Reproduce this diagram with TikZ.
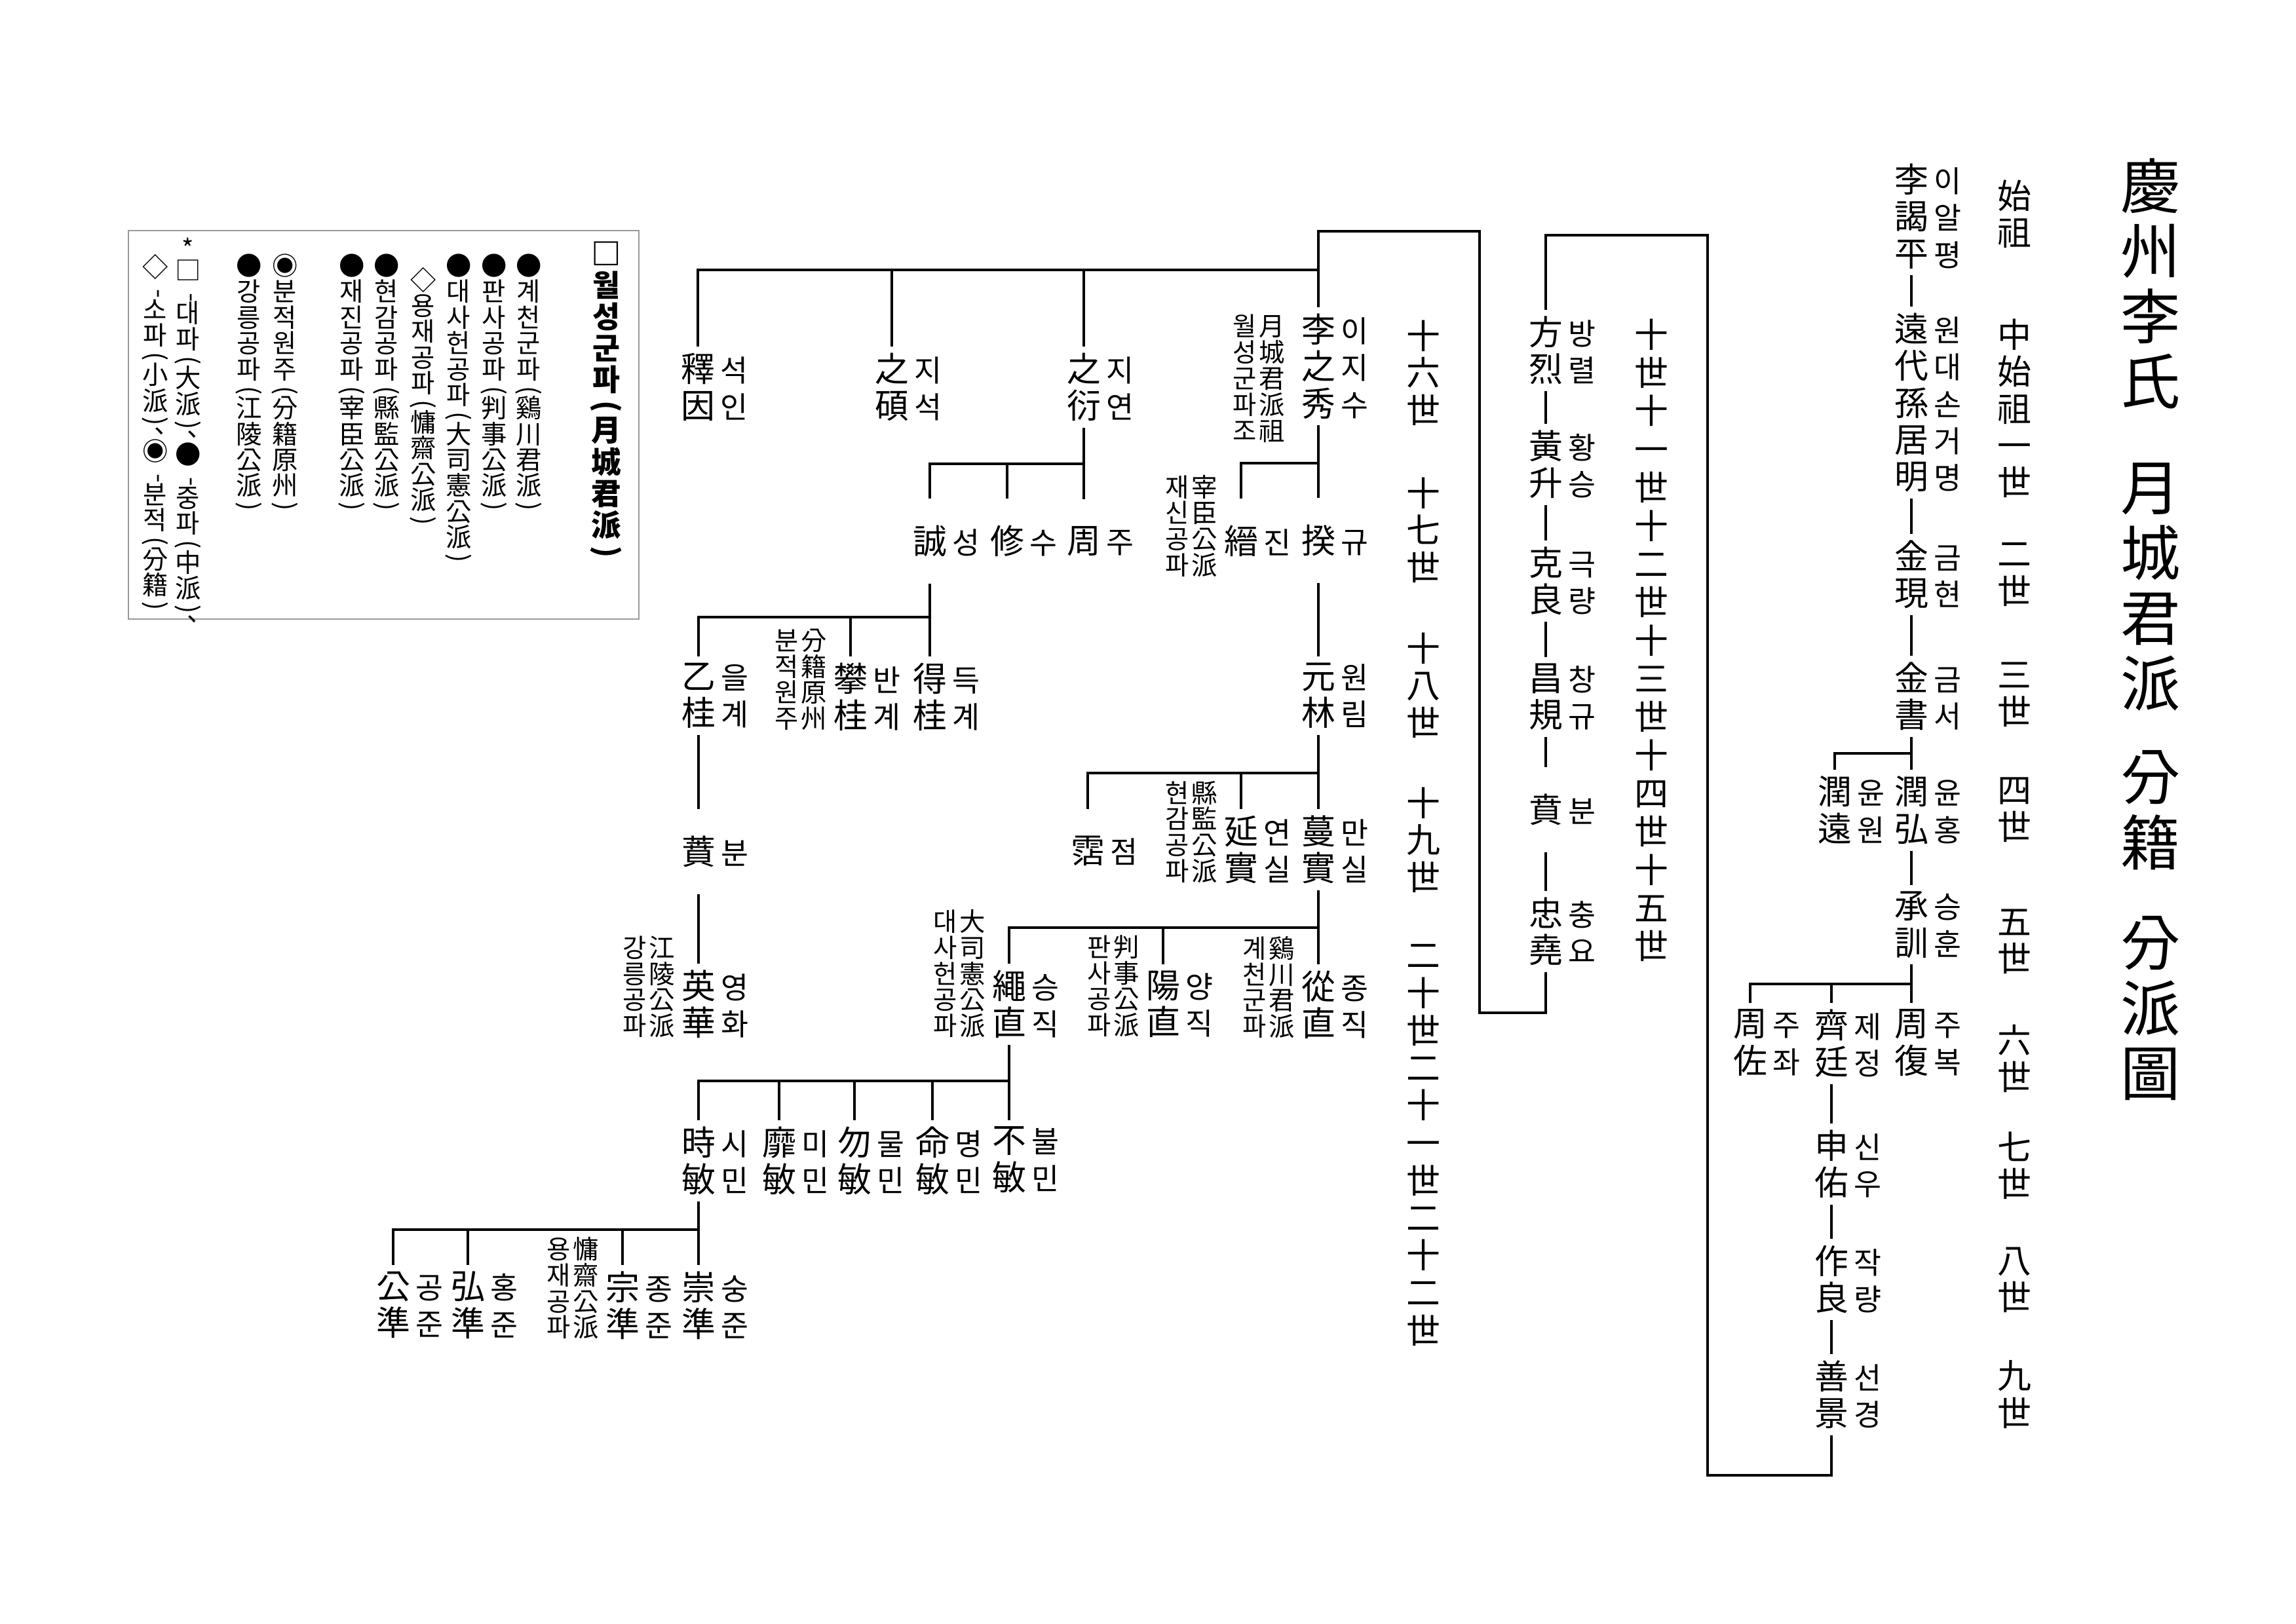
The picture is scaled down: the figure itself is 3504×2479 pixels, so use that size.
\documentclass[tikz,border=0pt]{standalone}
\usepackage{fontspec}
\setmainfont{Noto Sans CJK KR}
\usetikzlibrary{positioning}

% vertical text: one character per line
\makeatletter
\newcommand\vtxt[1]{\vbox{\lineskiplimit=-\maxdimen\vt@loop#1\@nil}}
\def\vt@loop#1{\ifx\@nil#1\else\vt@item{#1}\expandafter\vt@loop\fi}
\def\vt@item#1{%
  \ifx\vlp#1#1\else
  \ifx\vrp#1#1\else
  \ifx\vdsh#1#1\else
  \ifx\vcm#1#1\else
  \ifx\vstr#1#1\else
  \hbox to1em{\hss#1\hss}%
  \fi\fi\fi\fi\fi}
\makeatother
\newcommand\vlp{\vskip-2.3pt\hbox to1em{\hss\rotatebox[origin=c]{-90}{(}\hss}\vskip-2.3pt\relax}
\newcommand\vrp{\vskip-2.3pt\hbox to1em{\hss\rotatebox[origin=c]{-90}{)}\hss}\vskip-2.3pt\relax}
\newcommand\vdsh{\vskip-1.6pt\hbox to1em{\hss\rotatebox[origin=c]{-90}{-}\hss}\vskip-1.6pt\relax}
\newcommand\vcm{\vskip-3pt\hbox to1em{\hskip.45em\raisebox{.3em}{、}\hss}\vskip-2.2pt\relax}
\newcommand\vstr{\hbox to1em{\hss*\hss}\vskip-1.5pt\relax}

\newcommand\namefont{\fontsize{12.5}{13.6}\selectfont}
\newcommand\readfont{\fontsize{11}{13.6}\selectfont}
\newcommand\notefont{\fontsize{9.5}{9.6}\selectfont}
\newcommand\legfont{\fontsize{9.5}{9.5}\selectfont}
\newcommand\titlefont{\fontsize{22}{24}\selectfont}

\begin{document}
\begin{tikzpicture}[x=0.08476mm, y=-0.08476mm,
    han/.style={inner sep=0pt, font=\namefont, anchor=north},
    one/.style={inner xsep=0pt, inner ysep=7.5pt, font=\namefont},
    rd/.style={inner sep=0pt, font=\readfont, anchor=base west, xshift=1.25pt},
    note/.style={inner sep=0pt, font=\notefont, anchor=base east, xshift=-2pt},
    gen/.style={inner sep=0pt, font=\namefont, anchor=north},
    ttl/.style={inner sep=0pt, font=\titlefont, anchor=north},
    leg/.style={inner sep=0pt, font=\legfont, anchor=north},
    legt/.style={inner sep=0pt, font=\fontsize{11}{11.6}\bfseries, anchor=north},
    legbox/.style={draw=gray!80, line width=0.6pt},
    link/.style={line width=0.85pt, shorten <=2.2pt, shorten >=2.2pt},
    tick/.style={line width=0.85pt, shorten <=2.2pt}]
    \path[use as bounding box] (0,0) rectangle (3504,2479);

    % title
    \node[ttl] (ttl1) at (3282,241) {\vtxt{慶州李氏}};
    \node[ttl] (ttl2) at (3282,706) {\vtxt{月城君派}};
    \node[ttl] (ttl3) at (3282,1145) {\vtxt{分籍}};
    \node[ttl] (ttl4) at (3282,1398) {\vtxt{分派圖}};

    % generations
    \node[gen] (g0) at (3074,274) {\vtxt{始祖}};
    \node[gen] (g1) at (3074,486) {\vtxt{中始祖一世}};
    \node[gen] (g2) at (3074,828) {\vtxt{二世}};
    \node[gen] (g3) at (3074,1010) {\vtxt{三世}};
    \node[gen] (g4) at (3074,1186) {\vtxt{四世}};
    \node[gen] (g5) at (3074,1387) {\vtxt{五世}};
    \node[gen] (g6) at (3074,1563) {\vtxt{六世}};
    \node[gen] (g7) at (3074,1727) {\vtxt{七世}};
    \node[gen] (g8) at (3074,1903) {\vtxt{八世}};
    \node[gen] (g9) at (3074,2076) {\vtxt{九世}};
    \node[gen, font=\fontsize{12.5}{14.07}\selectfont] (g10) at (2520,486) {\vtxt{十世十一世十二世十三世十四世十五世}};
    \node[gen] (g16) at (2172,488) {\vtxt{十六世}};
    \node[gen] (g17) at (2172,728) {\vtxt{十七世}};
    \node[gen] (g18) at (2172,965) {\vtxt{十八世}};
    \node[gen] (g19) at (2172,1201) {\vtxt{十九世}};
    \node[gen, font=\fontsize{12.5}{13.8}\selectfont] (g20) at (2172,1441) {\vtxt{二十世二十一世二十二世}};

    % first line of descent
    \node[han] (alpyeong) at (2917,249) {\vtxt{李謁平}};
    \node[rd] (alpyeongr) at (alpyeong.base east) {\vtxt{이알평}};
    \node[han] (geomyeong) at (2917,477) {\vtxt{遠代孫居明}};
    \node[rd] (geomyeongr) at (geomyeong.base east) {\vtxt{원대손거명}};
    \node[han] (geumhyeon) at (2917,824) {\vtxt{金現}};
    \node[rd] (geumhyeonr) at (geumhyeon.base east) {\vtxt{금현}};
    \node[han] (geumseo) at (2917,1010) {\vtxt{金書}};
    \node[rd] (geumseor) at (geumseo.base east) {\vtxt{금서}};
    \node[han] (yunhong) at (2917,1184) {\vtxt{潤弘}};
    \node[rd] (yunhongr) at (yunhong.base east) {\vtxt{윤홍}};
    \node[han] (yunwon) at (2800,1184) {\vtxt{潤遠}};
    \node[rd] (yunwonr) at (yunwon.base east) {\vtxt{윤원}};
    \node[han] (seunghun) at (2917,1360) {\vtxt{承訓}};
    \node[rd] (seunghunr) at (seunghun.base east) {\vtxt{승훈}};
    \node[han] (jubok) at (2917,1540) {\vtxt{周復}};
    \node[rd] (jubokr) at (jubok.base east) {\vtxt{주복}};
    \node[han] (jejeong) at (2795,1540) {\vtxt{齊廷}};
    \node[rd] (jejeongr) at (jejeong.base east) {\vtxt{제정}};
    \node[han] (jujwa) at (2671,1540) {\vtxt{周佐}};
    \node[rd] (jujwar) at (jujwa.base east) {\vtxt{주좌}};
    \node[han] (sinu) at (2795,1724) {\vtxt{申佑}};
    \node[rd] (sinur) at (sinu.base east) {\vtxt{신우}};
    \node[han] (jangnyang) at (2795,1900) {\vtxt{作良}};
    \node[rd] (jangnyangr) at (jangnyang.base east) {\vtxt{작량}};
    \node[han] (seongyeong) at (2795,2076) {\vtxt{善景}};
    \node[rd] (seongyeongr) at (seongyeong.base east) {\vtxt{선경}};

    % second line of descent
    \node[han] (bangryeol) at (2359,482) {\vtxt{方烈}};
    \node[rd] (bangryeolr) at (bangryeol.base east) {\vtxt{방렬}};
    \node[han] (hwangseung) at (2359,656) {\vtxt{黃升}};
    \node[rd] (hwangseungr) at (hwangseung.base east) {\vtxt{황승}};
    \node[han] (geungnyang) at (2359,834) {\vtxt{克良}};
    \node[rd] (geungnyangr) at (geungnyang.base east) {\vtxt{극량}};
    \node[han] (changgyu) at (2359,1012) {\vtxt{昌規}};
    \node[rd] (changgyur) at (changgyu.base east) {\vtxt{창규}};
    \node[one] (bun) at (2359,1236) {\vtxt{賁}};
    \node[rd] (bunr) at (bun.base east) {\vtxt{분}};
    \node[han] (chungyo) at (2359,1369) {\vtxt{忠堯}};
    \node[rd] (chungyor) at (chungyo.base east) {\vtxt{충요}};

    % 月城君派
    \node[han] (jisu) at (2012,478) {\vtxt{李之秀}};
    \node[rd] (jisur) at (jisu.base east) {\vtxt{이지수}};
    \node[note, xshift=-3.6pt, yshift=-8.9pt] (jisun) at (jisu.base west) {\vtxt{월성군파조}\kern.7pt\vtxt{月城君派祖}};
    \node[han] (jiyeon) at (1654,538) {\vtxt{之衍}};
    \node[rd] (jiyeonr) at (jiyeon.base east) {\vtxt{지연}};
    \node[han] (jiseok) at (1361,538) {\vtxt{之碩}};
    \node[rd] (jiseokr) at (jiseok.base east) {\vtxt{지석}};
    \node[han] (seogin) at (1065,538) {\vtxt{釋因}};
    \node[rd] (seoginr) at (seogin.base east) {\vtxt{석인}};

    \node[one] (kyu) at (2012,825) {\vtxt{揆}};
    \node[rd] (kyur) at (kyu.base east) {\vtxt{규}};
    \node[one] (jin) at (1894,826) {\vtxt{縉}};
    \node[rd] (jinr) at (jin.base east) {\vtxt{진}};
    \node[note, yshift=-7.7pt] (jinn) at (jin.base west) {\vtxt{재신공파}\kern.7pt\vtxt{宰臣公派}};
    \node[han] (wollim) at (2012,1011) {\vtxt{元林}};
    \node[rd] (wollimr) at (wollim.base east) {\vtxt{원림}};
    \node[han] (manshil) at (2012,1244) {\vtxt{蔓實}};
    \node[rd] (manshilr) at (manshil.base east) {\vtxt{만실}};
    \node[han] (yeonshil) at (1894,1244) {\vtxt{延實}};
    \node[rd] (yeonshilr) at (yeonshil.base east) {\vtxt{연실}};
    \node[note] (yeonshiln) at (yeonshil.base west) {\vtxt{현감공파}\kern.7pt\vtxt{縣監公派}};
    \node[one] (jeom) at (1660,1299) {\vtxt{霑}};
    \node[rd] (jeomr) at (jeom.base east) {\vtxt{점}};
    \node[han] (jongjik) at (2012,1481) {\vtxt{從直}};
    \node[rd] (jongjikr) at (jongjik.base east) {\vtxt{종직}};
    \node[note] (jongjikn) at (jongjik.base west) {\vtxt{계천군파}\kern.7pt\vtxt{鷄川君派}};
    \node[han] (yangjik) at (1775,1481) {\vtxt{陽直}};
    \node[rd] (yangjikr) at (yangjik.base east) {\vtxt{양직}};
    \node[note] (yangjikn) at (yangjik.base west) {\vtxt{판사공파}\kern.7pt\vtxt{判事公派}};
    \node[han] (seungjik) at (1540,1480) {\vtxt{繩直}};
    \node[rd] (seungjikr) at (seungjik.base east) {\vtxt{승직}};
    \node[note] (seungjikn) at (seungjik.base west) {\vtxt{대사헌공파}\kern.7pt\vtxt{大司憲公派}};
    \node[han] (bulmin) at (1540,1719) {\vtxt{不敏}};
    \node[rd] (bulminr) at (bulmin.base east) {\vtxt{불민}};
    \node[han] (myeongmin) at (1423,1719) {\vtxt{命敏}};
    \node[rd] (myeongminr) at (myeongmin.base east) {\vtxt{명민}};
    \node[han] (mulmin) at (1304,1719) {\vtxt{勿敏}};
    \node[rd] (mulminr) at (mulmin.base east) {\vtxt{물민}};
    \node[han] (mimin) at (1189,1719) {\vtxt{靡敏}};
    \node[rd] (miminr) at (mimin.base east) {\vtxt{미민}};
    \node[han] (simin) at (1066,1719) {\vtxt{時敏}};
    \node[rd] (siminr) at (simin.base east) {\vtxt{시민}};
    \node[han] (sungjun) at (1066,1940) {\vtxt{崇準}};
    \node[rd] (sungjunr) at (sungjun.base east) {\vtxt{숭준}};
    \node[han] (jongjun) at (950,1940) {\vtxt{宗準}};
    \node[rd] (jongjunr) at (jongjun.base east) {\vtxt{종준}};
    \node[note] (jongjunn) at (jongjun.base west) {\vtxt{용재공파}\kern.7pt\vtxt{慵齋公派}};
    \node[han] (hongjun) at (714,1940) {\vtxt{弘準}};
    \node[rd] (hongjunr) at (hongjun.base east) {\vtxt{홍준}};
    \node[han] (gongjun) at (600,1940) {\vtxt{公準}};
    \node[rd] (gongjunr) at (gongjun.base east) {\vtxt{공준}};

    \node[one] (ju) at (1654,826) {\vtxt{周}};
    \node[rd] (jur) at (ju.base east) {\vtxt{주}};
    \node[one] (su) at (1537,826) {\vtxt{修}};
    \node[rd] (sur) at (su.base east) {\vtxt{수}};
    \node[one] (seong) at (1419,826) {\vtxt{誠}};
    \node[rd] (seongr) at (seong.base east) {\vtxt{성}};
    \node[han] (deukgye) at (1419,1011) {\vtxt{得桂}};
    \node[rd] (deukgyer) at (deukgye.base east) {\vtxt{득계}};
    \node[han] (bangye) at (1298,1011) {\vtxt{攀桂}};
    \node[rd] (bangyer) at (bangye.base east) {\vtxt{반계}};
    \node[note] (bangyen) at (bangye.base west) {\vtxt{분적원주}\kern.7pt\vtxt{分籍原州}};
    \node[han] (eulgye) at (1066,1011) {\vtxt{乙桂}};
    \node[rd] (eulgyer) at (eulgye.base east) {\vtxt{을계}};
    \node[one] (bun2) at (1066,1300) {\vtxt{蕡}};
    \node[rd] (bun2r) at (bun2.base east) {\vtxt{분}};
    \node[han] (yeonghwa) at (1066,1480) {\vtxt{英華}};
    \node[rd] (yeonghwar) at (yeonghwa.base east) {\vtxt{영화}};
    \node[note] (yeonghwan) at (yeonghwa.base west) {\vtxt{강릉공파}\kern.7pt\vtxt{江陵公派}};

    % bars and corners
    \coordinate (b4) at (2917,1150);
    \coordinate (b6) at (2917,1502);
    \coordinate (l9) at (2606,2252);
    \coordinate (t9) at (2606,359);
    \coordinate (l15) at (2258,1546);
    \coordinate (t15) at (2258,353);
    \coordinate (b15) at (2012,412);
    \coordinate (b16) at (2012,707);
    \coordinate (b17) at (1654,708);
    \coordinate (b17s) at (1419,942);
    \coordinate (b18) at (2012,1180);
    \coordinate (b19) at (2012,1416);
    \coordinate (b20) at (1540,1650);
    \coordinate (b21) at (1066,1877);

    \draw[link] (alpyeong.south) -- (geomyeong.north);
    \draw[link] (geomyeong.south) -- (geumhyeon.north);
    \draw[link] (geumhyeon.south) -- (geumseo.north);
    \draw[link] (geumseo.south) -- (yunhong.north);
    \draw[tick] (yunwon.north) |- (b4);
    \draw[link] (yunhong.south) -- (seunghun.north);
    \draw[link] (seunghun.south) -- (jubok.north);
    \draw[tick] (jejeong.north) |- (b6);
    \draw[tick] (jujwa.north) |- (b6);
    \draw[link] (jejeong.south) -- (sinu.north);
    \draw[link] (sinu.south) -- (jangnyang.north);
    \draw[link] (jangnyang.south) -- (seongyeong.north);
    \draw[link] (seongyeong.south) |- (l9) -- (t9) -| (bangryeol.north);

    \draw[link] (bangryeol.south) -- (hwangseung.north);
    \draw[link] (hwangseung.south) -- (geungnyang.north);
    \draw[link] (geungnyang.south) -- (changgyu.north);
    \draw[link] (changgyu.south) -- (bun.north);
    \draw[link] (bun.south) -- (chungyo.north);
    \draw[link] (chungyo.south) |- (l15) -- (t15) -| (jisu.north);
    \draw[tick] (jiyeon.north) |- (b15);
    \draw[tick] (jiseok.north) |- (b15);
    \draw[tick] (seogin.north) |- (b15);

    \draw[link] (jisu.south) -- (kyu.north);
    \draw[tick] (jin.north) |- (b16);
    \draw[link] (kyu.south) -- (wollim.north);
    \draw[link] (wollim.south) -- (manshil.north);
    \draw[tick] (yeonshil.north) |- (b18);
    \draw[tick] (jeom.north) |- (b18);
    \draw[link] (manshil.south) -- (jongjik.north);
    \draw[tick] (yangjik.north) |- (b19);
    \draw[tick] (seungjik.north) |- (b19);
    \draw[link] (seungjik.south) -- (bulmin.north);
    \draw[tick] (myeongmin.north) |- (b20);
    \draw[tick] (mulmin.north) |- (b20);
    \draw[tick] (mimin.north) |- (b20);
    \draw[tick] (simin.north) |- (b20);
    \draw[link] (simin.south) -- (sungjun.north);
    \draw[tick] (jongjun.north) |- (b21);
    \draw[tick] (hongjun.north) |- (b21);
    \draw[tick] (gongjun.north) |- (b21);

    \draw[link] (jiyeon.south) -- (ju.north);
    \draw[tick] (su.north) |- (b17);
    \draw[tick] (seong.north) |- (b17);
    \draw[link] (seong.south) -- (deukgye.north);
    \draw[tick] (bangye.north) |- (b17s);
    \draw[tick] (eulgye.north) |- (b17s);
    \draw[link] (eulgye.south) -- (bun2.north);
    \draw[link] (bun2.south) -- (yeonghwa.north);

    % legend
    \draw[legbox] (196,352) rectangle (975,945);
    \node[legt] (leg0) at (925,368) {\vtxt{□월성군파\vlp 月城君派\vrp}};
    \node[leg] (leg1) at (807,387) {\vtxt{●계천군파\vlp 鷄川君派\vrp}};
    \node[leg] (leg2) at (754,387) {\vtxt{●판사공파\vlp 判事公派\vrp}};
    \node[leg] (leg3) at (700,387) {\vtxt{●대사헌공파\vlp 大司憲公派\vrp}};
    \node[leg] (leg4) at (646,407) {\vtxt{◇용재공파\vlp 慵齋公派\vrp}};
    \node[leg] (leg5) at (590,387) {\vtxt{●현감공파\vlp 縣監公派\vrp}};
    \node[leg] (leg6) at (537,387) {\vtxt{●재진공파\vlp 宰臣公派\vrp}};
    \node[leg] (leg7) at (435,387) {\vtxt{◉분적원주\vlp 分籍原州\vrp}};
    \node[leg] (leg8) at (380,387) {\vtxt{●강릉공파\vlp 江陵公派\vrp}};
    \node[leg] (leg9) at (287,362) {\vtxt{\vstr □\vdsh 대파\vlp 大派\vrp\vcm ●\vdsh 중파\vlp 中派\vrp\vcm}};
    \node[leg] (leg10) at (237,387) {\vtxt{◇\vdsh 소파\vlp 小派\vrp\vcm ◉\vdsh 분적\vlp 分籍\vrp}};
\end{tikzpicture}
\end{document}
